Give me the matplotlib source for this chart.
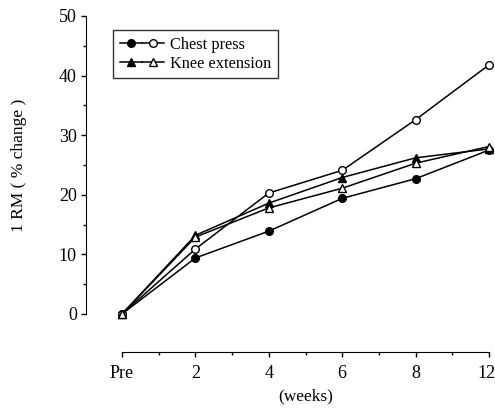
import numpy as np
import matplotlib
matplotlib.use("Agg")
import matplotlib.pyplot as plt
import matplotlib.transforms as mtransforms
from matplotlib.legend_handler import HandlerTuple

plt.rcParams['font.family'] = ['Liberation Serif', 'DejaVu Serif']

weeks = ['Pre', '2', '4', '6', '8', '12']
chest_closed = [0, 9.4, 13.9, 19.4, 22.7, 27.5]
chest_open = [0, 10.9, 20.3, 24.1, 32.6, 41.8]
knee_closed = [0, 13.2, 18.6, 22.9, 26.2, 27.7]
knee_open = [0, 12.9, 17.8, 21.1, 25.3, 28.1]

x = np.arange(len(weeks))

fig = plt.figure(figsize=(4.95, 4.12), dpi=100)
ax = fig.add_axes([0.2465, 0.2379, 0.7414, 0.7233])

kw = dict(color='black', lw=1.1, markersize=5.5, clip_on=False, zorder=3)
l1, = ax.plot(x, chest_closed, marker='o', mfc='black', **kw)
l2, = ax.plot(x, chest_open, marker='o', mfc='white', **kw)
l3, = ax.plot(x, knee_closed, marker='^', mfc='black', **kw)
l4, = ax.plot(x, knee_open, marker='^', mfc='white', **kw)

ax.set_xlim(0, 5)
ax.set_ylim(0, 50)
ax.spines['top'].set_visible(False)
ax.spines['right'].set_visible(False)
ax.spines['left'].set_position(('outward', 26))
ax.spines['bottom'].set_position(('outward', 27.5))

ax.set_xticks(x)
ax.set_xticklabels(weeks)
ax.set_xticks(x[:-1] + 0.5, minor=True)
ax.set_yticks(np.arange(0, 51, 10))
ax.set_yticks(np.arange(5, 50, 10), minor=True)
ax.tick_params(which='major', length=3.5, width=1, labelsize=13, direction='out')
ax.tick_params(which='minor', length=2.5, width=1, direction='out')
ax.tick_params(axis='x', pad=6)
ax.tick_params(axis='y', pad=3)

# keep the last label inside the picture
last = ax.get_xticklabels()[-1]
last.set_transform(last.get_transform() +
                   mtransforms.ScaledTranslation(-3 / 100, 0, fig.dpi_scale_trans))

ax.set_ylabel('1 RM ( % change )', fontsize=12.5)
ax.yaxis.set_label_coords(-0.26, 0.5)
ax.set_xlabel('(weeks)', fontsize=12.5)
ax.xaxis.set_label_coords(0.5, -0.25)

leg = fig.legend([(l1, l2), (l3, l4)], ['Chest press', 'Knee extension'],
                 handler_map={tuple: HandlerTuple(ndivide=None, pad=0)},
                 loc='upper left', bbox_to_anchor=(113 / 495, 1 - 30 / 412),
                 fontsize=11.8, frameon=True, fancybox=False, handlelength=2.7,
                 handletextpad=0.4, borderpad=0.4, labelspacing=0.2,
                 borderaxespad=0)
leg.get_frame().set_edgecolor('black')
leg.get_frame().set_linewidth(1)

fig.savefig('out.png', dpi=100)
